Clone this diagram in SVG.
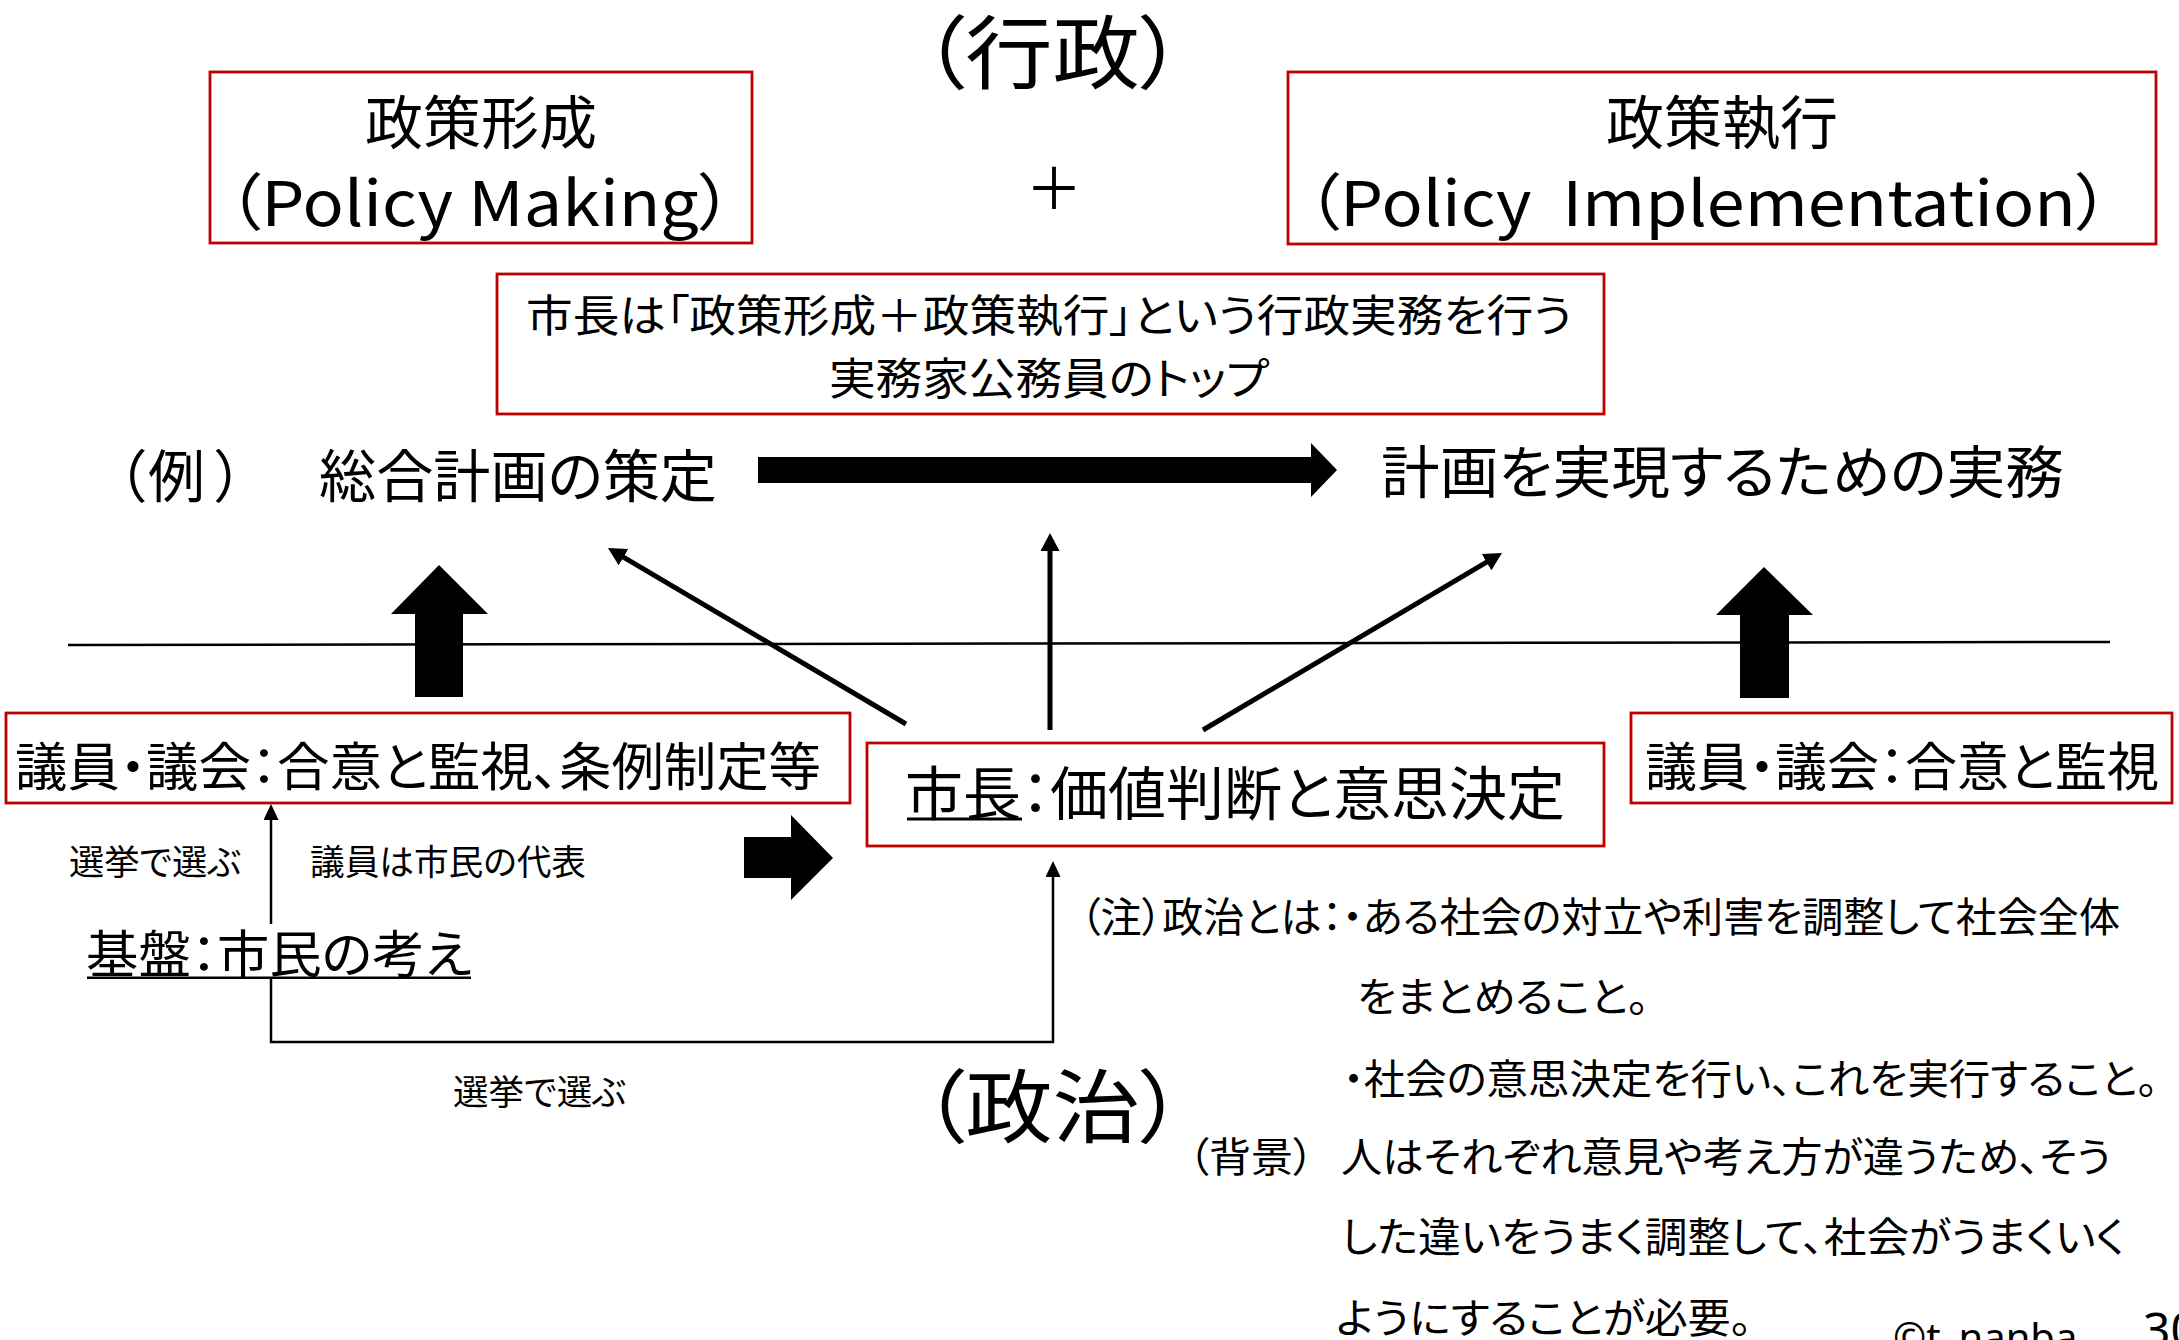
<svg xmlns="http://www.w3.org/2000/svg" width="2179" height="1340" viewBox="0 0 2179 1340">
<style>
text{font-family:"Noto Sans CJK JP","Noto Sans",sans-serif;fill:#000;font-feature-settings:"palt"}
.box{fill:#fff;stroke:#C00000;stroke-width:2.8}
.big{font-size:80px}
.h{font-size:58px}
.m{font-size:44px}
.l{font-size:57px}
.b{font-size:52px}
.s{font-size:35px}
.n{font-size:41px}
.lat{font-size:62px}
.thick{stroke:#000;stroke-width:5;fill:none}
.thin{stroke:#000;stroke-width:2.5;fill:none}
.solid{fill:#000;stroke:none}
</style>
<defs>
<marker id="ah" markerUnits="userSpaceOnUse" markerWidth="18" markerHeight="19" refX="8" refY="9.5" orient="auto" viewBox="0 0 18 19"><path d="M0,0 L18,9.5 L0,19 z" fill="#000"/></marker>
<marker id="ahs" markerUnits="userSpaceOnUse" markerWidth="16" markerHeight="15" refX="8" refY="7.5" orient="auto" viewBox="0 0 16 15"><path d="M0,0 L16,7.5 L0,15 z" fill="#000"/></marker>
</defs>
<rect width="2179" height="1340" fill="#fff"/>

<g id="title-gyosei"><text class="big" x="921.5" y="82" textLength="262" lengthAdjust="spacingAndGlyphs">（行政）</text></g>

<g id="node-policy-making">
<rect class="box" x="210" y="72" width="542" height="171"/>
<text class="h" x="481" y="144" text-anchor="middle">政策形成</text>
<text class="lat" x="227" y="226" textLength="506" lengthAdjust="spacingAndGlyphs">（Policy Making）</text>
</g>

<g id="plus"><text style="font-size:57px" x="1054" y="209" text-anchor="middle">＋</text></g>

<g id="node-policy-implementation">
<rect class="box" x="1288" y="72" width="868" height="172"/>
<text class="h" x="1722" y="144" text-anchor="middle">政策執行</text>
<text class="lat" x="1306" y="226" textLength="804" lengthAdjust="spacingAndGlyphs" xml:space="preserve">（Policy  Implementation）</text>
</g>

<g id="node-mayor-role">
<rect class="box" x="497" y="274" width="1107" height="140"/>
<text class="m" x="526" y="332" textLength="1046" lengthAdjust="spacingAndGlyphs">市長は「政策形成＋政策執行」という行政実務を行う</text>
<text class="m" x="829" y="395" textLength="440" lengthAdjust="spacingAndGlyphs">実務家公務員のトップ</text>
</g>

<g id="example">
<text class="l" y="497"><tspan x="117">（</tspan><tspan x="148">例</tspan><tspan x="215">）</tspan></text>
<text class="l" x="319" y="497" textLength="398" lengthAdjust="spacingAndGlyphs">総合計画の策定</text>
</g>

<g id="plan-execution"><text class="l" x="1381" y="493" textLength="683" lengthAdjust="spacingAndGlyphs">計画を実現するための実務</text></g>

<g id="node-council-left">
<rect class="box" x="6" y="713" width="844" height="90"/>
<text class="b" x="15" y="786" textLength="806" lengthAdjust="spacingAndGlyphs">議員・議会：合意と監視、条例制定等</text>
</g>

<g id="node-mayor">
<rect class="box" x="867" y="743" width="737" height="103"/>
<text class="h" x="905" y="815" textLength="660" lengthAdjust="spacingAndGlyphs">市長：価値判断と意思決定</text>
<rect x="907" y="817.5" width="115" height="3" fill="#000"/>
</g>

<g id="node-council-right">
<rect class="box" x="1631" y="713" width="541" height="90"/>
<text class="b" x="1645" y="786" textLength="514" lengthAdjust="spacingAndGlyphs">議員・議会：合意と監視</text>
</g>

<g id="node-citizens">
<text style="font-size:51px" x="86" y="973" textLength="386" lengthAdjust="spacingAndGlyphs">基盤：市民の考え</text>
<rect x="87" y="976.5" width="384" height="2.5" fill="#000"/>
</g>

<g id="labels">
<text class="s" x="69" y="875" textLength="172" lengthAdjust="spacingAndGlyphs">選挙で選ぶ</text>
<text class="s" x="310" y="875" textLength="276" lengthAdjust="spacingAndGlyphs">議員は市民の代表</text>
<text class="s" x="453" y="1105" textLength="173" lengthAdjust="spacingAndGlyphs">選挙で選ぶ</text>
</g>

<g id="title-seiji"><text class="big" x="921.5" y="1136" textLength="262" lengthAdjust="spacingAndGlyphs">（政治）</text></g>

<g id="notes">
<text class="n" x="1080" y="932" textLength="1040" lengthAdjust="spacingAndGlyphs">（注）政治とは：・ある社会の対立や利害を調整して社会全体</text>
<text class="n" x="1357" y="1012" textLength="292" lengthAdjust="spacingAndGlyphs">をまとめること。</text>
<text class="n" x="1343" y="1094" textLength="815" lengthAdjust="spacingAndGlyphs">・社会の意思決定を行い、これを実行すること。</text>
<text class="n" x="1188" y="1172" textLength="126" lengthAdjust="spacingAndGlyphs">（背景）</text>
<text class="n" x="1341" y="1172" textLength="770" lengthAdjust="spacingAndGlyphs">人はそれぞれ意見や考え方が違うため、そう</text>
<text class="n" x="1341" y="1252" textLength="784" lengthAdjust="spacingAndGlyphs">した違いをうまく調整して、社会がうまくいく</text>
<text class="n" x="1336" y="1333" textLength="416" lengthAdjust="spacingAndGlyphs">ようにすることが必要。</text>
</g>

<g id="footer">
<text style="font-size:40px;font-family:'Noto Sans',sans-serif" x="1893" y="1352">©t_nanba</text>
<text style="font-size:48px;font-family:'Noto Sans',sans-serif" x="2143" y="1347">30</text>
</g>

<g id="connectors">
<line x1="68" y1="645" x2="2110" y2="642" stroke="#000" stroke-width="2.5"/>
<polygon class="solid" points="758,457 1311,457 1311,443 1337,470 1311,497 1311,483 758,483"/>
<polygon class="solid" points="415,697 415,614 391,614 439,565 488,614 463,614 463,697"/>
<polygon class="solid" points="1740,698 1740,615 1716,615 1764,567 1813,615 1789,615 1789,698"/>
<polygon class="solid" points="744,837 791,837 791,815 833,858 791,900 791,878 744,878"/>
<line class="thick" x1="906" y1="724" x2="616.6" y2="553.1" marker-end="url(#ah)"/>
<line class="thick" x1="1050" y1="730" x2="1050" y2="543" marker-end="url(#ah)"/>
<line class="thick" x1="1203" y1="730" x2="1493.4" y2="558.1" marker-end="url(#ah)"/>
<line class="thin" x1="271" y1="924" x2="271" y2="812" marker-end="url(#ahs)"/>
<polyline class="thin" points="271,977 271,1042 1053,1042 1053,869" marker-end="url(#ahs)"/>
</g>
</svg>
